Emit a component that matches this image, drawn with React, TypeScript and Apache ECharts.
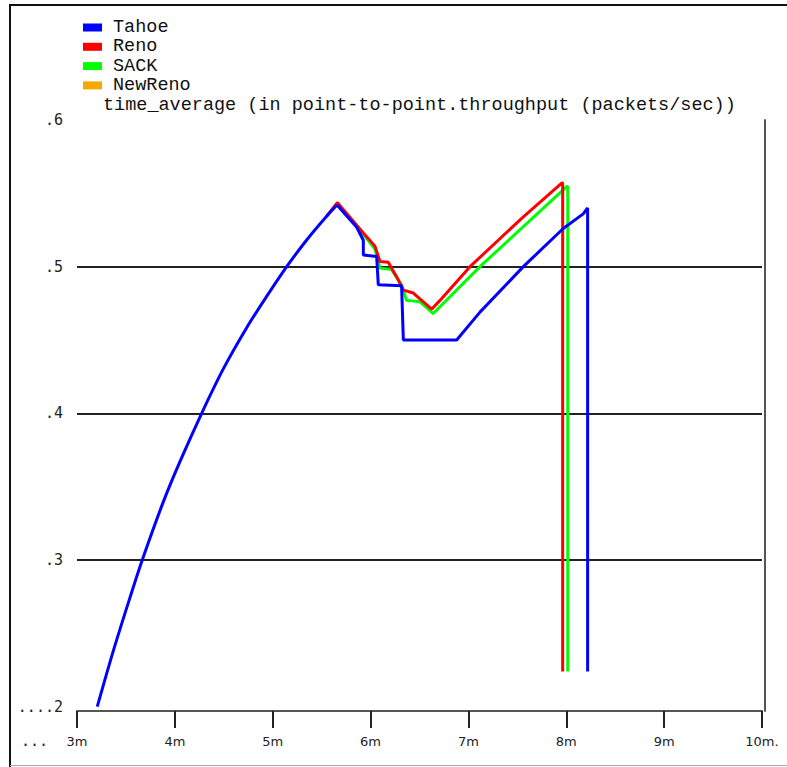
import { useEffect, useRef } from "react";
import * as echarts from "echarts";

const seriesNames = ["Tahoe", "Reno", "SACK", "NewReno"];
const seriesColors = ["#0000ff", "#ff0000", "#00ff00", "#f5a800"];
const titleText = "time_average (in point-to-point.throughput (packets/sec))";

// x tick values (time, m) and their labels
const xTickValues = [3, 4, 5, 6, 7, 8, 9, 10];
const xTickLabels = ["3m", "4m", "5m", "6m", "7m", "8m", "9m", "10m."];
// y tick values and labels
const yTickValues = [0.2, 0.3, 0.4, 0.5, 0.6];
const yTickLabels = ["....2", ".3", ".4", ".5", ".6"];
const gridValues = [0.3, 0.4, 0.5];

// shared rising start of the curves (Tahoe drawn on top of it)
const risingTime = [3.207, 3.371, 3.542, 3.667, 3.882, 4.052, 4.274, 4.495, 4.734, 4.938, 5.143, 5.347, 5.551, 5.657];
const risingValue = [0.2, 0.238, 0.2745, 0.3, 0.3396, 0.367, 0.4, 0.4303, 0.4584, 0.4797, 0.5, 0.5182, 0.5344, 0.542];

const tahoeTime = [5.657, 5.857, 5.926, 5.926, 6.062, 6.079, 6.317, 6.335, 6.88, 7.118, 7.561, 7.969, 8.173, 8.218, 8.218];
const tahoeValue = [0.542, 0.527, 0.518, 0.508, 0.507, 0.4876, 0.487, 0.45, 0.45, 0.469, 0.5, 0.526, 0.536, 0.54, 0.224];

const renoTime = [5.551, 5.66, 5.926, 6.045, 6.096, 6.181, 6.267, 6.335, 6.437, 6.624, 6.709, 7.016, 7.561, 7.953, 7.963, 7.963];
const renoValue = [0.5344, 0.5437, 0.523, 0.514, 0.5035, 0.503, 0.493, 0.484, 0.482, 0.471, 0.477, 0.5, 0.534, 0.557, 0.557, 0.224];

const sackTime = [5.551, 5.66, 5.926, 6.045, 6.096, 6.215, 6.317, 6.368, 6.505, 6.641, 6.709, 7.118, 8.004, 8.015, 8.015];
const sackValue = [0.5344, 0.543, 0.522, 0.512, 0.499, 0.498, 0.4876, 0.477, 0.476, 0.468, 0.4727, 0.5, 0.5546, 0.5546, 0.224];

const newRenoTime: number[] = [];
const newRenoValue: number[] = [];

function pairs(t: number[], v: number[]) {
  return t.map((x, i) => [x, v[i]]);
}

const MONO = "'Liberation Mono', 'DejaVu Sans Mono', monospace";

function lineSeries(name: string, data: number[][], smooth: number | boolean) {
  const color = seriesColors[seriesNames.indexOf(name)];
  return {
    name,
    type: "line",
    data,
    smooth,
    showSymbol: false,
    symbol: "none",
    color,
    lineStyle: { color, width: 3 },
    itemStyle: { color },
    emphasis: { disabled: true },
    silent: true,
    z: 2,
  } as any;
}

export default function App() {
  const ref = useRef<HTMLDivElement>(null);
  useEffect(() => {
    if (!ref.current) return;
    const chart = echarts.init(ref.current, undefined, { renderer: "svg" });
    const newReno = lineSeries("NewReno", pairs(newRenoTime, newRenoValue), false);
    newReno.markLine = {
      silent: true,
      symbol: "none",
      z: 1,
      label: { show: false },
      emphasis: { disabled: true },
      lineStyle: { color: "#222", width: 2, type: "solid" },
      data: gridValues.map((v) => ({ yAxis: v })),
    };
    // drawing order: NewReno, SACK, Reno, Tahoe (Tahoe on top)
    const series = [
      newReno,
      lineSeries("SACK", pairs(sackTime, sackValue), false),
      lineSeries("Reno", pairs(renoTime, renoValue), false),
      lineSeries("Tahoe", pairs(risingTime, risingValue), 0.3),
      lineSeries("Tahoe", pairs(tahoeTime, tahoeValue), false),
    ];
    chart.setOption({
      animation: false,
      backgroundColor: "#ffffff",
      title: {
        text: titleText,
        left: 103,
        top: 95,
        padding: 0,
        textStyle: {
          fontFamily: MONO,
          fontSize: 18.5,
          fontWeight: "normal",
          color: "#111",
          lineHeight: 20,
        },
      },
      legend: {
        data: seriesNames,
        orient: "vertical",
        left: 83,
        top: 18,
        padding: 0,
        itemGap: 0.3,
        itemWidth: 19,
        itemHeight: 8,
        icon: "rect",
        selectedMode: false,
        itemStyle: { borderWidth: 0 },
        textStyle: {
          fontFamily: MONO,
          fontSize: 18.5,
          fontWeight: "normal",
          color: "#111",
          lineHeight: 10,
          padding: [8, 0, 0, 6],
        },
      },
      grid: { left: 77, right: 25, top: 120, bottom: 56, containLabel: false },
      xAxis: {
        type: "value",
        min: 3,
        max: 10,
        interval: 1,
        axisLine: { show: true, lineStyle: { color: "#555", width: 2 } },
        axisTick: { show: true, length: 17, lineStyle: { color: "#222", width: 2 } },
        splitLine: { show: false },
        axisLabel: {
          margin: 24,
          fontFamily: "'DejaVu Sans', sans-serif",
          fontSize: 13,
          color: "#222",
          formatter: (v: number) => {
            const i = xTickValues.indexOf(Math.round(v));
            return i >= 0 ? xTickLabels[i] : "";
          },
        },
      },
      yAxis: [
        {
          type: "value",
          min: 0.197,
          max: 0.6,
          splitNumber: 4,
          axisLine: { show: false },
          axisTick: { show: false },
          splitLine: { show: false },
          axisLabel: {
            showMinLabel: false,
            margin: 14,
            fontFamily: "'DejaVu Sans Mono', monospace",
            fontSize: 15,
            color: "#222",
            formatter: (v: number) => {
              const r = Math.round(v * 1000) / 1000;
              const i = yTickValues.findIndex((t) => Math.abs(t - r) < 1e-6);
              return i >= 0 ? yTickLabels[i] : "";
            },
          },
        },
        {
          type: "value",
          min: 0.197,
          max: 0.6,
          position: "right",
          offset: 3,
          axisLine: { show: true, lineStyle: { color: "#555", width: 2 } },
          axisTick: { show: false },
          axisLabel: { show: false },
          splitLine: { show: false },
        },
      ],
      graphic: [
        {
          type: "line",
          shape: { x1: 10, y1: 4, x2: 10, y2: 767 },
          style: { stroke: "#111", lineWidth: 2 },
          silent: true,
        },
        {
          type: "line",
          shape: { x1: 9, y1: 5, x2: 787, y2: 5 },
          style: { stroke: "#111", lineWidth: 2 },
          silent: true,
        },
        {
          type: "line",
          shape: { x1: 10, y1: 765.5, x2: 787, y2: 765.5 },
          style: { stroke: "#aaa", lineWidth: 1 },
          silent: true,
        },
        {
          type: "text",
          left: 21,
          top: 733,
          silent: true,
          style: {
            text: "...",
            font: "15px 'DejaVu Sans Mono', monospace",
            fill: "#222",
          },
        },
      ],
      series,
    });
    return () => chart.dispose();
  }, []);
  return (
    <div
      ref={ref}
      style={{ position: "absolute", left: 0, top: 0, width: 787, height: 767, background: "#fff" }}
    />
  );
}
